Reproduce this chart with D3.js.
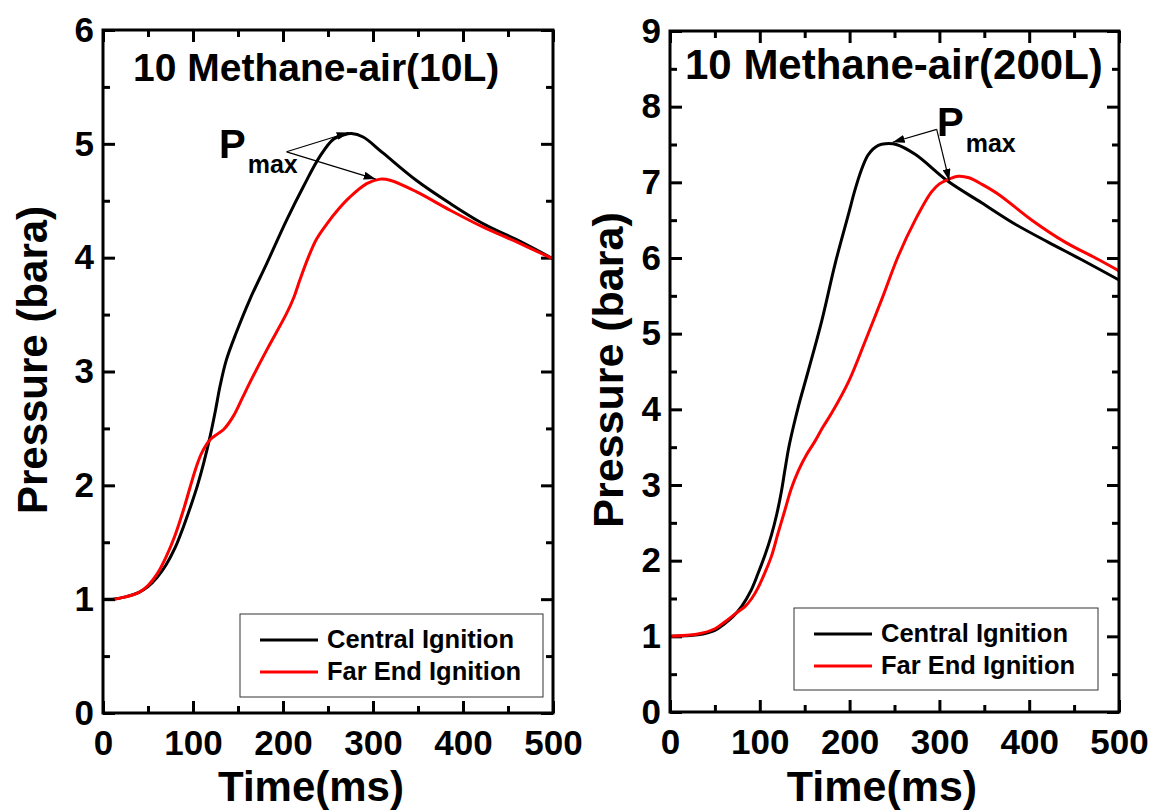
<!DOCTYPE html>
<html>
<head>
<meta charset="utf-8">
<script src="https://cdn.jsdelivr.net/npm/d3@7"></script>
<style>
  body { margin: 0; background: #fff; }
  svg { display: block; font-family: "Liberation Sans", Arial, sans-serif; font-weight: bold; }
</style>
</head>
<body>
<svg id="chart" width="1165" height="812"></svg>
<script>
// ---- 10 L vessel: pressure history (time in ms, pressure in bara) ----
const time10Central = [0, 10, 25, 40, 50, 60, 70, 80, 90, 98, 105, 112, 119, 125, 130, 137, 148, 163, 182, 204, 223, 241, 256, 268, 276, 289, 311, 348, 385, 422, 459, 500];
const pres10Central = [1.00, 1.00, 1.02, 1.06, 1.11, 1.19, 1.30, 1.45, 1.65, 1.83, 2.00, 2.20, 2.43, 2.66, 2.87, 3.10, 3.34, 3.63, 3.95, 4.33, 4.63, 4.89, 5.04, 5.08, 5.09, 5.06, 4.92, 4.68, 4.48, 4.30, 4.16, 3.99];
const time10Far = [13, 25, 40, 50, 60, 70, 80, 90, 97, 104, 110, 119, 127, 134, 145, 155, 163, 182, 204, 212, 219, 228, 237, 249, 262, 274, 293, 308, 319, 348, 385, 422, 459, 500];
const pres10Far = [1.00, 1.02, 1.06, 1.12, 1.22, 1.37, 1.56, 1.80, 1.99, 2.17, 2.29, 2.40, 2.45, 2.49, 2.61, 2.77, 2.90, 3.19, 3.51, 3.65, 3.81, 4.00, 4.16, 4.30, 4.43, 4.53, 4.65, 4.69, 4.68, 4.58, 4.42, 4.27, 4.14, 3.99];

// ---- 200 L vessel ----
const time200Central = [0, 31, 50, 61, 70, 80, 90, 98, 106, 113, 119, 124, 128, 132, 137, 143, 154, 169, 184, 199, 206, 213, 220, 226, 232, 240, 252, 273, 310, 347, 384, 421, 458, 500];
const pres200Central = [1.00, 1.02, 1.08, 1.17, 1.26, 1.40, 1.60, 1.83, 2.08, 2.34, 2.62, 2.91, 3.20, 3.48, 3.75, 4.04, 4.51, 5.17, 5.93, 6.59, 6.90, 7.16, 7.35, 7.44, 7.49, 7.51, 7.50, 7.37, 7.01, 6.73, 6.45, 6.21, 5.98, 5.71];
const time200Far = [0, 31, 50, 61, 73, 84, 91, 98, 106, 113, 120, 128, 135, 143, 152, 161, 170, 180, 199, 217, 236, 254, 273, 291, 300, 310, 321, 333, 348, 366, 403, 440, 477, 500];
const pres200Far = [1.00, 1.03, 1.10, 1.19, 1.30, 1.40, 1.50, 1.64, 1.85, 2.06, 2.35, 2.67, 2.95, 3.19, 3.40, 3.57, 3.76, 3.95, 4.37, 4.89, 5.46, 6.02, 6.50, 6.87, 6.98, 7.04, 7.08, 7.06, 6.97, 6.84, 6.50, 6.21, 5.98, 5.83];

// ---- axes and labels ----
const timeTicks = [0, 100, 200, 300, 400, 500];
const timeMinorTicks = [50, 150, 250, 350, 450];
const presTicks10 = [0, 1, 2, 3, 4, 5, 6];
const presTicks200 = [0, 1, 2, 3, 4, 5, 6, 7, 8, 9];
const seriesNames = ["Central Ignition", "Far End Ignition"];
const seriesColors = ["#000000", "#ff0000"];
const panelTitles = ["10 Methane-air(10L)", "10 Methane-air(200L)"];
const xTitle = "Time(ms)";
const yTitle = "Pressure (bara)";

// Pmax arrow anchors, [time, pressure]: label point and arrow tips
const pmax10From = [204, 4.93];
const pmax10Tips = [[273, 5.10], [303, 4.69]];
const pmax200From = [297, 7.70];
const pmax200Tips = [[248, 7.53], [311, 7.02]];

const svg = d3.select("#chart");

svg.append("defs").append("marker")
  .attr("id", "arrowHead")
  .attr("viewBox", "0 0 12 8")
  .attr("refX", 12).attr("refY", 4)
  .attr("markerWidth", 12).attr("markerHeight", 8)
  .attr("markerUnits", "userSpaceOnUse")
  .attr("orient", "auto")
  .append("path").attr("d", "M0,0 L12,4 L0,8 Z").attr("fill", "#000");

function drawPanel(cfg) {
  const g = svg.append("g").attr("transform", `translate(${cfg.left},${cfg.top})`);
  const w = cfg.width, h = cfg.height;
  const x = d3.scaleLinear().domain([0, 500]).range([0, w]);
  const y = d3.scaleLinear().domain([0, cfg.yMax]).range([h, 0]);
  const yMinor = d3.range(0.5, cfg.yMax, 1);

  const tickStyle = sel => {
    sel.select(".domain").remove();
    sel.selectAll(".tick line").attr("stroke", "#000").attr("stroke-width", 3);
  };
  const labelStyle = size => sel => sel.selectAll("text")
    .attr("font-size", size).attr("fill", "#000")
    .attr("font-family", "Liberation Sans, Arial, sans-serif").attr("font-weight", "bold");

  // bottom axis with labels
  g.append("g").attr("transform", `translate(0,${h})`)
    .call(d3.axisBottom(x).tickValues(timeTicks).tickSize(-12).tickPadding(17).tickFormat(d3.format("d")))
    .call(tickStyle).call(labelStyle(cfg.xTickFont));
  g.append("g").attr("transform", `translate(0,${h})`)
    .call(d3.axisBottom(x).tickValues(timeMinorTicks).tickSize(-7).tickFormat(""))
    .call(tickStyle);
  // top mirror
  g.append("g")
    .call(d3.axisTop(x).tickValues(timeTicks).tickSize(-12).tickFormat("")).call(tickStyle);
  g.append("g")
    .call(d3.axisTop(x).tickValues(timeMinorTicks).tickSize(-7).tickFormat("")).call(tickStyle);

  // left axis with labels
  g.append("g")
    .call(d3.axisLeft(y).tickValues(cfg.yTicks).tickSize(-12).tickPadding(9).tickFormat(d3.format("d")))
    .call(tickStyle).call(labelStyle(cfg.yTickFont));
  g.append("g")
    .call(d3.axisLeft(y).tickValues(yMinor).tickSize(-7).tickFormat("")).call(tickStyle);
  // right mirror
  g.append("g").attr("transform", `translate(${w},0)`)
    .call(d3.axisRight(y).tickValues(cfg.yTicks).tickSize(-12).tickFormat("")).call(tickStyle);
  g.append("g").attr("transform", `translate(${w},0)`)
    .call(d3.axisRight(y).tickValues(yMinor).tickSize(-7).tickFormat("")).call(tickStyle);

  // curves
  const line = d3.line().x(d => x(d[0])).y(d => y(d[1])).curve(d3.curveCatmullRom.alpha(0.5));
  cfg.series.forEach((s, i) => {
    const pts = s.t.map((t, k) => [t, s.p[k]]);
    g.append("path").datum(pts)
      .attr("d", line)
      .attr("fill", "none")
      .attr("stroke", seriesColors[i])
      .attr("stroke-width", 3)
      .attr("stroke-linejoin", "round");
  });

  // frame
  g.append("rect").attr("width", w).attr("height", h)
    .attr("fill", "none").attr("stroke", "#000").attr("stroke-width", 3);

  // panel title
  g.append("text").attr("x", cfg.titleX).attr("y", cfg.titleY)
    .attr("font-size", cfg.titleFont).attr("fill", "#000").text(cfg.title);

  // Pmax annotation
  const ann = g.append("text").attr("x", cfg.pX).attr("y", cfg.pY).attr("fill", "#000");
  ann.append("tspan").attr("font-size", cfg.pFont).text("P");
  ann.append("tspan").attr("font-size", cfg.subFont).attr("dx", 2).attr("dy", cfg.subDy).text("max");
  cfg.pTips.forEach(tp => {
    g.append("line")
      .attr("x1", x(cfg.pFrom[0])).attr("y1", y(cfg.pFrom[1]))
      .attr("x2", x(tp[0])).attr("y2", y(tp[1]))
      .attr("stroke", "#000").attr("stroke-width", 1.2)
      .attr("marker-end", "url(#arrowHead)");
  });

  // legend
  const lg = g.append("g").attr("transform", `translate(${cfg.legX},${cfg.legY})`);
  lg.append("rect").attr("width", cfg.legW).attr("height", cfg.legH)
    .attr("fill", "#fff").attr("stroke", "#333").attr("stroke-width", 1);
  seriesNames.forEach((name, i) => {
    const yy = 26 + i * 32;
    lg.append("line").attr("x1", 20).attr("x2", 78).attr("y1", yy).attr("y2", yy)
      .attr("stroke", seriesColors[i]).attr("stroke-width", 3);
    lg.append("text").attr("x", 87).attr("y", yy + 8)
      .attr("font-size", 25.5).attr("fill", "#000").text(name);
  });

  // axis titles
  svg.append("text")
    .attr("transform", `translate(${cfg.yTitleX},${cfg.yTitleY}) rotate(-90)`)
    .attr("text-anchor", "middle").attr("font-size", cfg.yTitleFont).attr("fill", "#000")
    .text(yTitle);
  svg.append("text")
    .attr("x", cfg.xTitleX).attr("y", cfg.xTitleY)
    .attr("text-anchor", "middle").attr("font-size", cfg.xTitleFont).attr("fill", "#000")
    .text(xTitle);
}

drawPanel({
  left: 103, top: 30, width: 450, height: 683, yMax: 6, yTicks: presTicks10,
  xTickFont: 35, yTickFont: 35,
  title: panelTitles[0], titleX: 30, titleY: 51, titleFont: 39,
  pX: 116, pY: 128, pFont: 40, subFont: 25, subDy: 15,
  pFrom: pmax10From, pTips: pmax10Tips,
  legX: 137, legY: 584, legW: 303, legH: 83,
  series: [{ t: time10Central, p: pres10Central }, { t: time10Far, p: pres10Far }],
  yTitleX: 47, yTitleY: 360, yTitleFont: 42,
  xTitleX: 311, xTitleY: 801, xTitleFont: 42
});

drawPanel({
  left: 670, top: 31, width: 449, height: 681, yMax: 9, yTicks: presTicks200,
  xTickFont: 35, yTickFont: 35,
  title: panelTitles[1], titleX: 15, titleY: 48, titleFont: 42,
  pX: 267, pY: 105, pFont: 40, subFont: 25, subDy: 16,
  pFrom: pmax200From, pTips: pmax200Tips,
  legX: 124, legY: 577, legW: 304, legH: 82,
  series: [{ t: time200Central, p: pres200Central }, { t: time200Far, p: pres200Far }],
  yTitleX: 623, yTitleY: 370, yTitleFont: 43,
  xTitleX: 882, xTitleY: 801, xTitleFont: 43
});
</script>
</body>
</html>
